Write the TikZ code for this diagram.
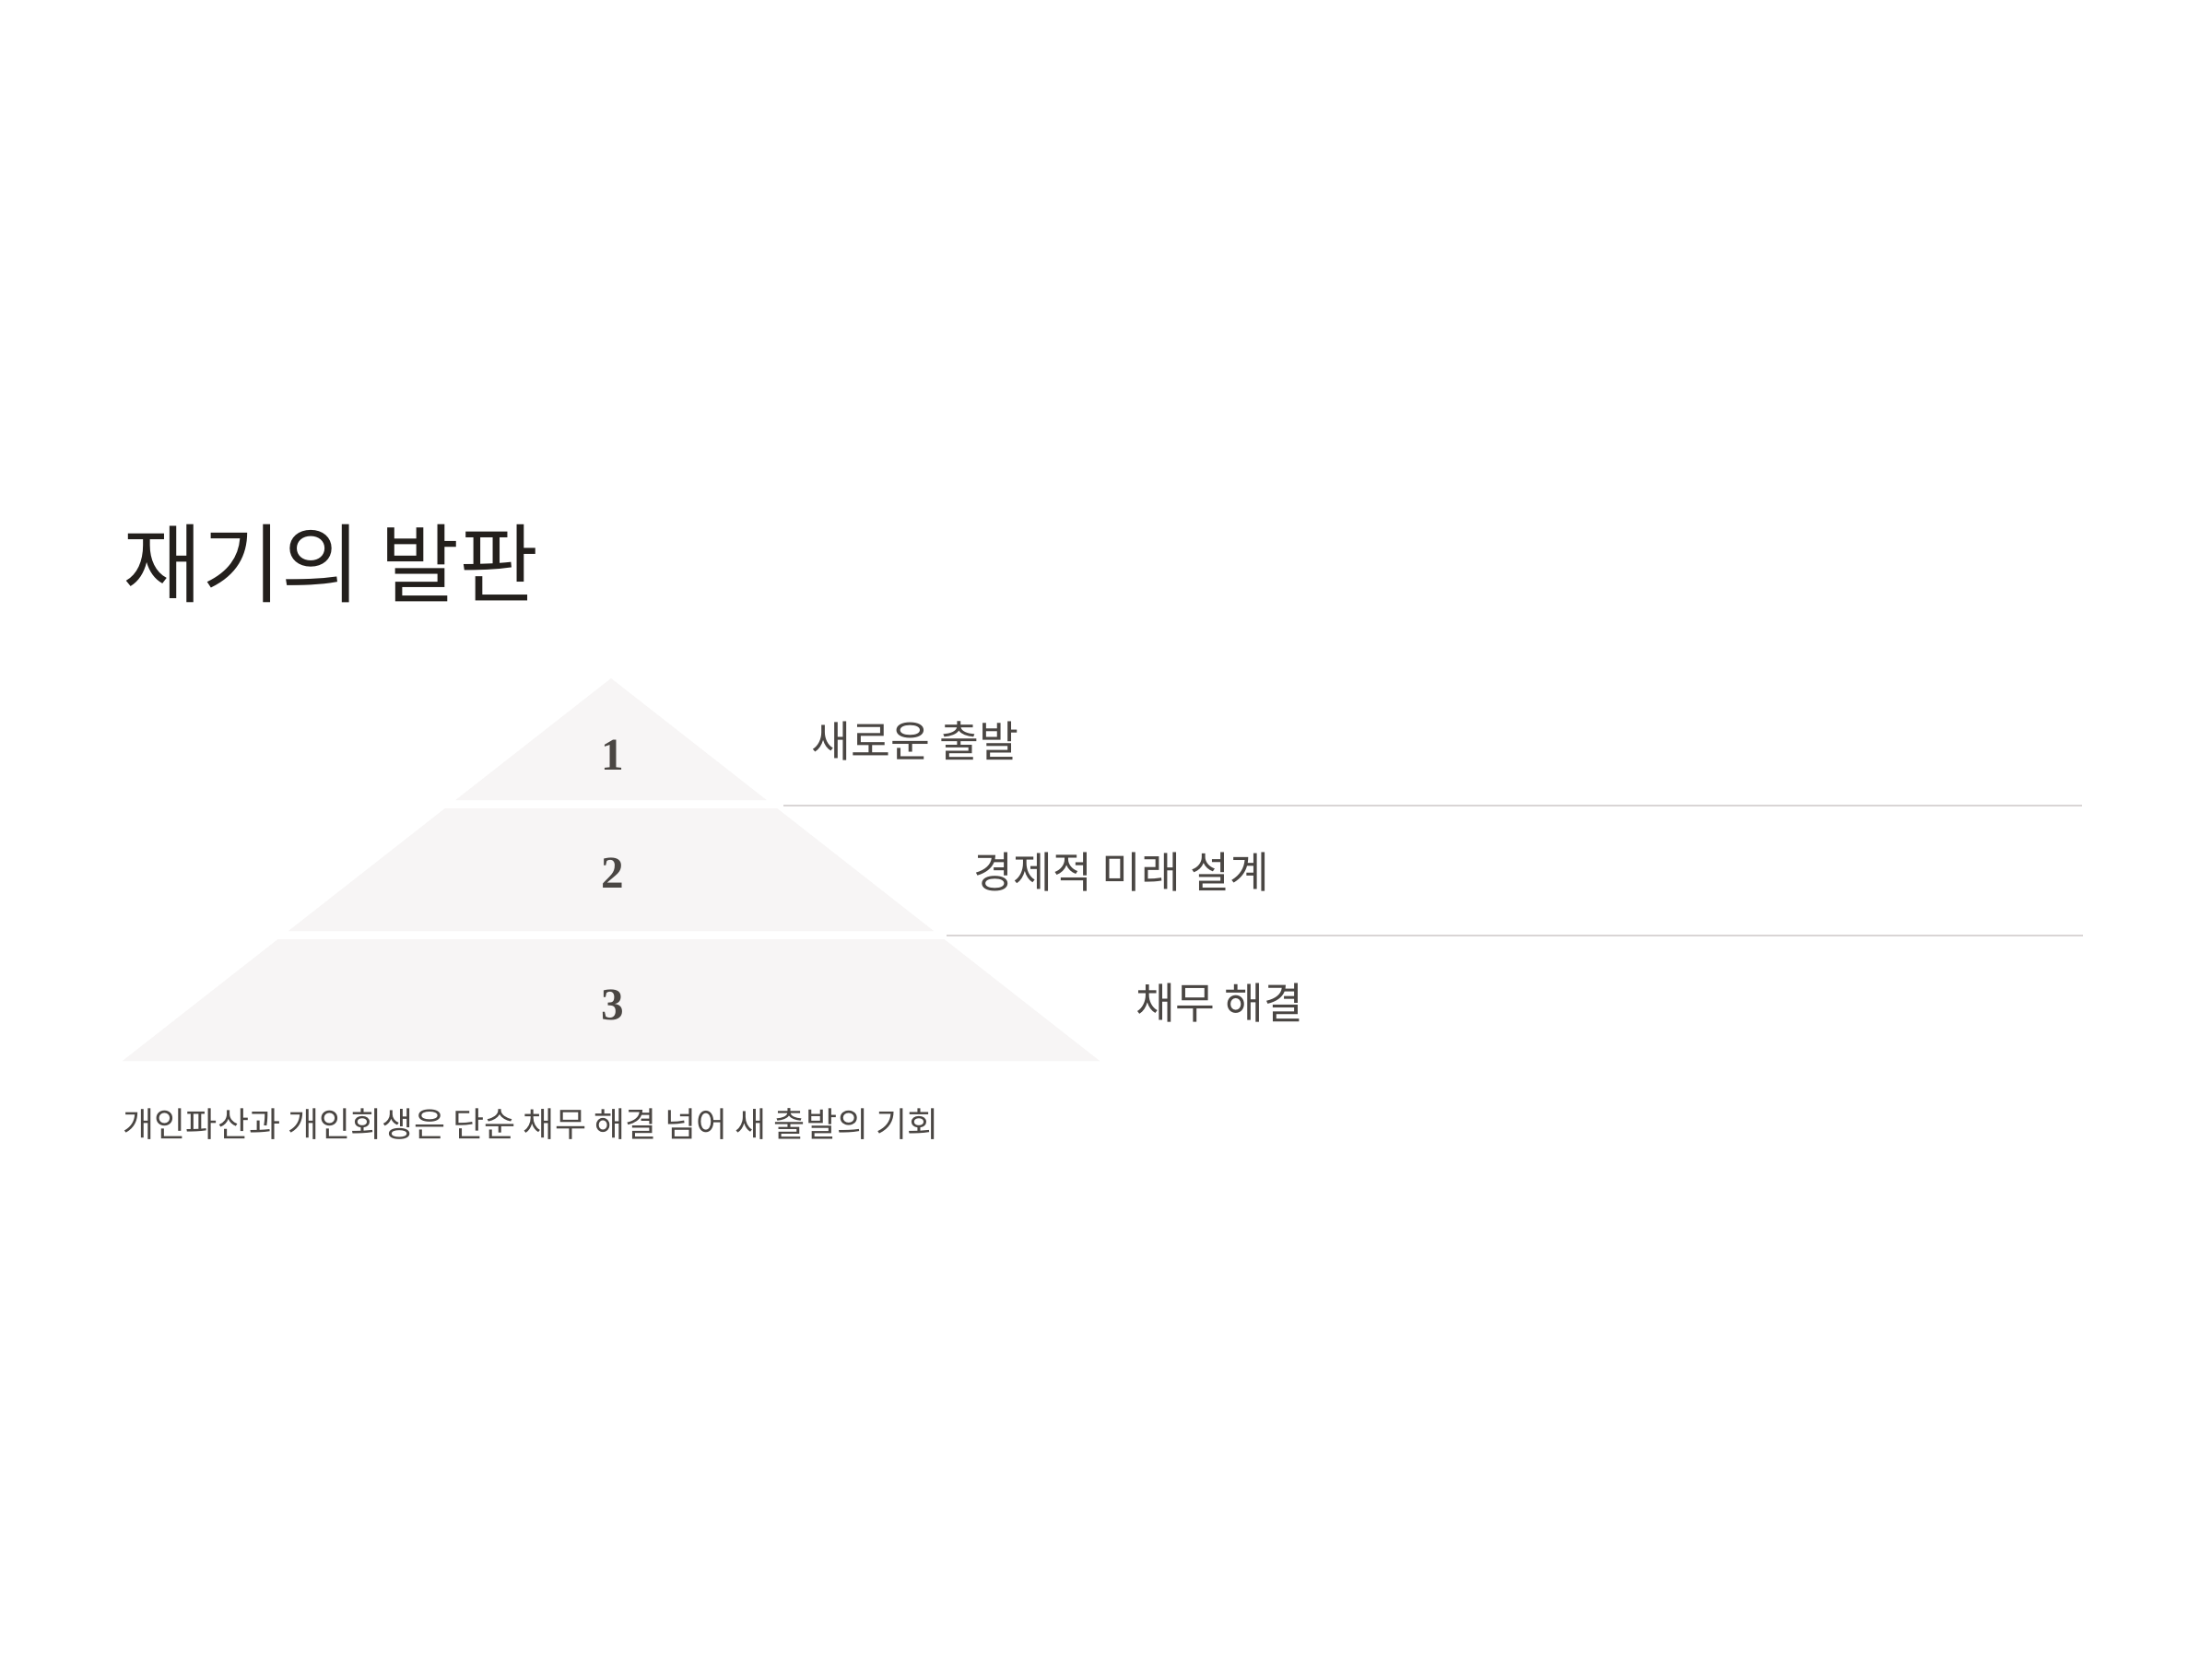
\documentclass[tikz,border=0pt]{standalone}
\usepackage{fontspec}
\setmainfont{Noto Sans CJK KR}
\newfontfamily\numfont{Liberation Serif}
\usetikzlibrary{positioning}

\definecolor{bandfill}{HTML}{F7F5F5}
\definecolor{rulegray}{HTML}{D9D5D5}
\definecolor{titleink}{HTML}{231F1C}
\definecolor{textink}{HTML}{4A4643}

\begin{document}
\begin{tikzpicture}[
  band/.style={fill=bandfill,draw=none},
  level rule/.style={draw=rulegray,line width=0.6pt},
  num node/.style={font=\numfont\bfseries\fontsize{14}{14}\selectfont,text=textink},
  level node/.style={anchor=west,inner sep=0pt,text=textink,font=\fontsize{13.25}{14}\selectfont}]

  \useasboundingbox[fill=white] (0,0) rectangle (24,18);

  \node[anchor=west,inner sep=0pt,text=titleink,font=\fontsize{26.6}{30}\selectfont] (title) at (1.33,11.88) {재기의 발판};

  % pyramid bands
  \fill[band] (6.63,10.64) -- (8.316,9.32) -- (4.944,9.32) -- cycle;
  \fill[band] (4.829,9.23) -- (8.431,9.23) -- (10.129,7.90) -- (3.131,7.90) -- cycle;
  \fill[band] (3.016,7.81) -- (10.244,7.81) -- (11.93,6.49) -- (1.33,6.49) -- cycle;

  \node[num node] (n1) at (6.65,9.81) {1};
  \node[num node] (n2) at (6.65,8.53) {2};
  \node[num node] (n3) at (6.65,7.10) {3};

  \node[level node] (l1) at (8.80,9.96) {새로운 출발};
  \node[level node] (l2) at (10.56,8.54) {경제적 미래 설계};
  \node[level node] (l3) at (12.32,7.12) {채무 해결};

  \coordinate (r1a) at (8.50,9.26);
  \coordinate (r1b) at (22.59,9.26);
  \coordinate (r2a) at (10.27,7.85);
  \coordinate (r2b) at (22.60,7.85);
  \draw[level rule] (r1a) -- (r1b);
  \draw[level rule] (r2a) -- (r2b);

  \node[anchor=west,inner sep=0pt,text=textink,font=\fontsize{10.55}{12}\selectfont] (caption) at (1.33,5.80) {개인파산과 개인회생은 단순 채무 해결 넘어 새 출발의 기회};
\end{tikzpicture}
\end{document}
